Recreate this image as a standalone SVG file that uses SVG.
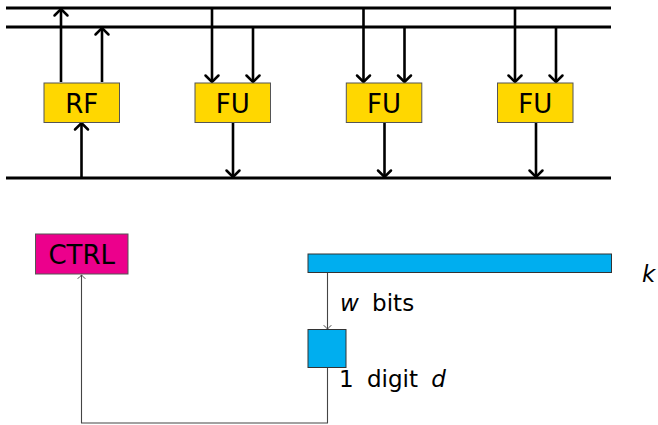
<svg xmlns="http://www.w3.org/2000/svg" width="658" height="425" viewBox="0 0 658 425">
  <style>
    .bus { stroke: #000; stroke-width: 2.8; fill: none; }
    .wire { stroke: #000; stroke-width: 2.6; fill: none; marker-end: url(#tip); }
    .thin { stroke: #444; stroke-width: 1.1; fill: none; marker-end: url(#tipSmall); }
    .unit { fill: #FFD700; stroke: #555; stroke-width: 1; }
    .ctrl { fill: #EC008C; stroke: #555; stroke-width: 1; }
    .mem { fill: #00AEEF; stroke: #333; stroke-width: 1; }
    .big { font-family: "DejaVu Sans", sans-serif; font-size: 26px; fill: #000; text-anchor: middle; }
    .lbl { font-family: "DejaVu Sans", sans-serif; font-size: 23px; fill: #000; word-spacing: 6px; }
    .it { font-style: italic; }
  </style>
  <defs>
    <marker id="tip" markerUnits="userSpaceOnUse" markerWidth="16" markerHeight="16" refX="0" refY="0" viewBox="-8 -8 16 16" orient="auto" overflow="visible">
      <path d="M-6.5,-6.5 Q-1.5,-1.5 0,0 Q-1.5,1.5 -6.5,6.5" fill="none" stroke="#000" stroke-width="2.5" stroke-linecap="round"/>
    </marker>
    <marker id="tipSmall" markerUnits="userSpaceOnUse" markerWidth="10" markerHeight="10" refX="0" refY="0" viewBox="-5 -5 10 10" orient="auto" overflow="visible">
      <path d="M-3.5,-3.5 Q-1,-1 0,0 Q-1,1 -3.5,3.5" fill="none" stroke="#444" stroke-width="1" stroke-linecap="round"/>
    </marker>
  </defs>

  <!-- buses -->
  <g id="buses">
    <line class="bus" x1="6" y1="8" x2="611" y2="8"/>
    <line class="bus" x1="6" y1="27" x2="611" y2="27"/>
    <line class="bus" x1="6" y1="178" x2="611" y2="178" stroke-width="3.2"/>
  </g>

  <!-- connectors -->
  <g id="connectors">
    <!-- RF -->
    <line class="wire" x1="61" y1="82" x2="61" y2="9"/>
    <line class="wire" x1="102" y1="82" x2="102" y2="28"/>
    <line class="wire" x1="81.5" y1="177" x2="81.5" y2="123"/>
    <!-- FU 1 -->
    <line class="wire" x1="212" y1="9" x2="212" y2="82"/>
    <line class="wire" x1="253" y1="28" x2="253" y2="82"/>
    <line class="wire" x1="233" y1="123" x2="233" y2="177"/>
    <!-- FU 2 -->
    <line class="wire" x1="363.5" y1="9" x2="363.5" y2="82"/>
    <line class="wire" x1="404.5" y1="28" x2="404.5" y2="82"/>
    <line class="wire" x1="384.5" y1="123" x2="384.5" y2="177"/>
    <!-- FU 3 -->
    <line class="wire" x1="515" y1="9" x2="515" y2="82"/>
    <line class="wire" x1="556" y1="28" x2="556" y2="82"/>
    <line class="wire" x1="536" y1="123" x2="536" y2="177"/>
    <!-- scalar path -->
    <line class="thin" x1="327.5" y1="272" x2="327.5" y2="329"/>
    <polyline class="thin" points="327.5,367 327.5,423 81.5,423 81.5,275"/>
  </g>

  <g id="rf">
    <rect class="unit" x="44" y="83" width="75.5" height="39.5"/>
    <text class="big" x="81.75" y="112.5">RF</text>
  </g>
  <g id="fu1">
    <rect class="unit" x="195" y="83" width="75.5" height="39.5"/>
    <text class="big" x="232.75" y="112.5">FU</text>
  </g>
  <g id="fu2">
    <rect class="unit" x="346.3" y="83" width="75.5" height="39.5"/>
    <text class="big" x="384" y="112.5">FU</text>
  </g>
  <g id="fu3">
    <rect class="unit" x="497.5" y="83" width="75.5" height="39.5"/>
    <text class="big" x="535.25" y="112.5">FU</text>
  </g>

  <g id="ctrl">
    <rect class="ctrl" x="35.5" y="234" width="92.5" height="40"/>
    <text class="big" x="81.75" y="264" font-size="27">CTRL</text>
  </g>

  <g id="key">
    <rect class="mem" x="308" y="254" width="303.5" height="18.5"/>
    <text class="lbl it" x="642" y="282">k</text>
  </g>

  <g id="digit">
    <rect class="mem" x="308" y="329.5" width="38" height="38"/>
  </g>

  <g id="labels">
    <text class="lbl" x="340" y="311"><tspan class="it">w</tspan> bits</text>
    <text class="lbl" x="339" y="387">1 digit <tspan class="it">d</tspan></text>
  </g>
</svg>
